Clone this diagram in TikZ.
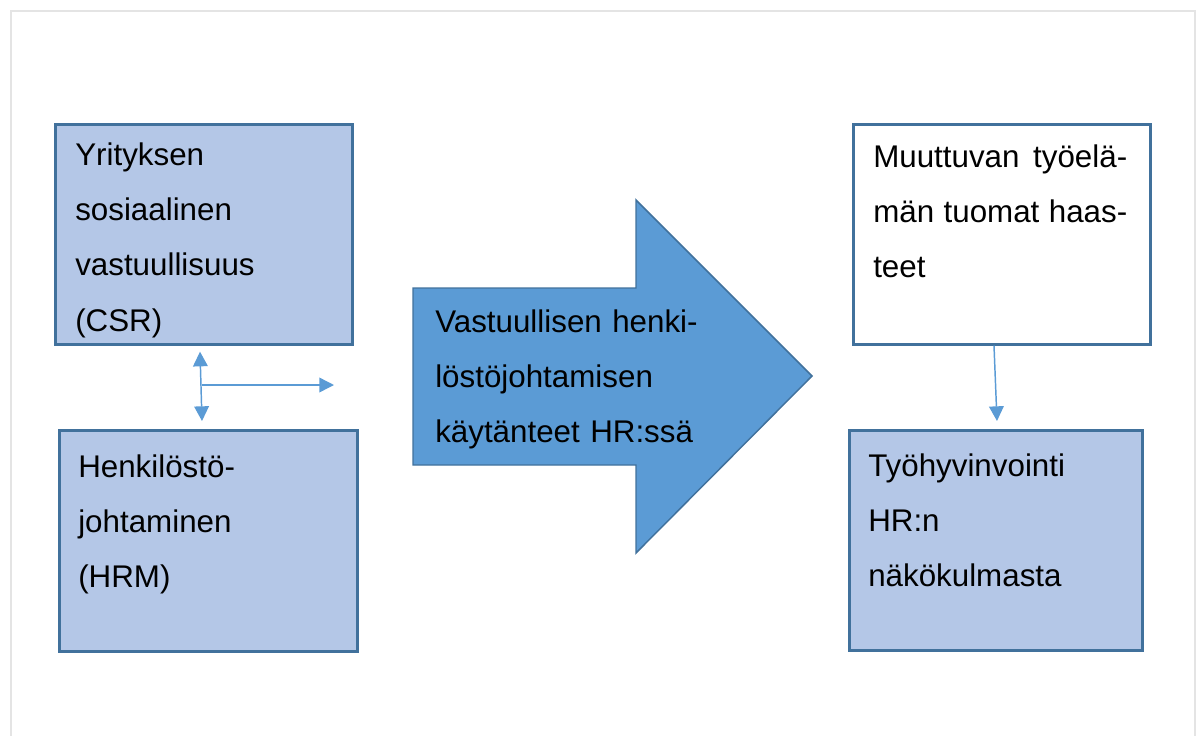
\documentclass[tikz,border=0pt]{standalone}
\usepackage{fontspec}
\setmainfont{Liberation Sans}
\usetikzlibrary{arrows.meta,calc}
\definecolor{boxfill}{HTML}{B4C7E7}
\definecolor{boxline}{HTML}{41719C}
\definecolor{accent}{HTML}{5B9BD5}
\definecolor{framegray}{HTML}{E4E4E4}
\begin{document}
\begin{tikzpicture}[x=0.75pt,y=-0.75pt,
  box/.style={draw=boxline, line width=2pt, fill=boxfill, anchor=north west, inner sep=0pt},
  whitebox/.style={box, fill=white},
  label/.style={anchor=base west, inner sep=0pt, text width=260pt, align=left,
    font=\fontsize{23.5}{41.6}\selectfont},
  thin arrow/.style={draw=accent, line width=1.1pt, -{Triangle[length=11pt,width=11pt]}},
  both arrow/.style={draw=accent, line width=1.1pt, {Triangle[length=11pt,width=11pt]}-{Triangle[length=11pt,width=11pt]}}
]
\useasboundingbox (0,0) rectangle (1197,736);
% page frame
\draw[framegray, line width=1.6pt] (11,740) -- (11,11) -- (1195,11) -- (1195,740);

% boxes
\node[box, minimum width=222.75pt, minimum height=165pt] (csr) at (54,123) {};
\node[box, minimum width=223.5pt, minimum height=165.75pt] (hrm) at (58,429) {};
\node[whitebox, minimum width=222.75pt, minimum height=165pt] (change) at (852,123) {};
\node[box, minimum width=219.75pt, minimum height=165pt] (wellbeing) at (848,429) {};

% large block arrow
\draw[draw=boxline, line width=1.1pt, fill=accent]
  (413,288) -- (636,288) -- (636,200) -- (812,376) -- (636,553) -- (636,465) -- (413,465) -- cycle;

% texts
\node[label] (csrtext) at (75,165) {Yrityksen\\sosiaalinen\\vastuullisuus\\(CSR)};
\node[label] (hrmtext) at (78,477) {Henkilöstö-\\johtaminen\\(HRM)};
\node[label, text width=190.5pt] (changetext) at (873,167)
  {Muuttuvan\hfill työelä-\\män\hfill tuomat\hfill haas-\\teet};
\node[label] (welltext) at (868,476) {Työhyvinvointi\\HR:n\\näkökulmasta};
\node[label, text width=300pt] (practice) at (435,332) {Vastuullisen henki-\\löstöjohtamisen\\käytänteet HR:ssä};

% connectors
\draw[both arrow] ($(csr.south west)+(146,6)$) -- ($(hrm.north west)+(144,-8)$);
\coordinate (split) at (201.5,385);
\coordinate (hend) at (334,385);
\draw[thin arrow] (split) -- (hend);
\draw[thin arrow] ($(change.south west)+(142,0)$) -- ($(wellbeing.north west)+(149,-8)$);
\end{tikzpicture}
\end{document}
